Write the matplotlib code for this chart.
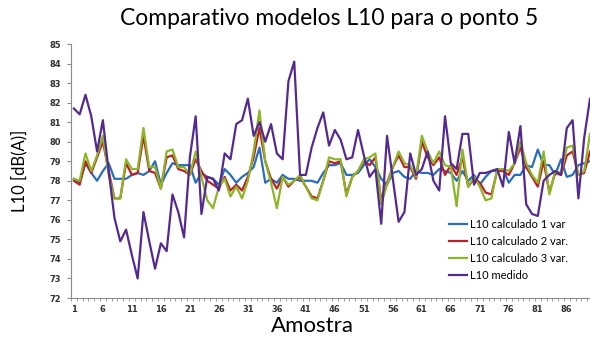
import numpy as np
import matplotlib
matplotlib.use("Agg")
import matplotlib.pyplot as plt
from matplotlib.ticker import MultipleLocator, FixedLocator

# ============================================================
# Dados
# ============================================================
amostras = np.arange(1, 91)

l10_calc_1var = [
    78.1, 77.9, 78.9, 78.4, 78.0, 78.5, 78.9, 78.1, 78.1, 78.1,
    78.3, 78.4, 78.3, 78.5, 79.0, 77.8, 78.4, 78.9, 78.8, 78.8,
    78.8, 77.9, 78.4, 78.2, 78.1, 77.8, 78.6, 78.3, 77.9, 78.2,
    78.4, 78.7, 79.7, 77.9, 78.1, 77.9, 78.3, 78.1, 78.1, 78.0,
    78.0, 78.0, 77.9, 78.4, 78.8, 78.8, 78.9, 78.3, 78.3, 78.4,
    78.8, 79.1, 78.7, 78.1, 77.8, 78.4, 78.5, 78.2, 78.1, 78.5,
    78.4, 78.4, 78.3, 78.6, 78.5, 78.4, 78.0, 78.5, 78.0, 78.3,
    77.8, 78.2, 78.5, 78.5, 78.6, 77.9, 78.3, 78.3, 78.8, 78.7,
    79.6, 78.8, 78.8, 78.3, 79.1, 78.2, 78.3, 78.8, 78.9, 79.0,
]

l10_calc_2var = [
    78.0, 77.8, 79.0, 78.4, 79.2, 80.0, 78.5, 77.1, 77.1, 78.9,
    78.3, 78.4, 80.3, 78.5, 78.4, 77.6, 79.2, 79.3, 78.6, 78.5,
    78.3, 79.1, 78.5, 78.0, 77.8, 77.6, 78.2, 77.5, 77.8, 77.5,
    78.2, 79.2, 80.7, 79.0, 78.1, 77.6, 78.2, 77.7, 78.0, 78.2,
    77.7, 77.2, 77.1, 78.0, 79.0, 78.9, 79.0, 77.3, 78.2, 78.5,
    79.0, 78.8, 79.2, 77.0, 77.9, 78.7, 79.3, 78.7, 78.7, 78.1,
    80.0, 79.2, 78.8, 79.2, 78.3, 78.8, 78.3, 79.2, 77.7, 78.1,
    77.9, 77.4, 77.3, 78.5, 78.5, 78.3, 78.9, 79.7, 78.7, 78.2,
    77.7, 79.0, 77.4, 78.4, 78.3, 79.3, 79.5, 78.3, 78.4, 79.5,
]

l10_calc_3var = [
    78.1, 78.0, 79.4, 78.5, 79.3, 80.3, 78.3, 77.1, 77.1, 79.1,
    78.6, 78.6, 80.7, 78.7, 78.7, 77.6, 79.5, 79.6, 78.7, 78.7,
    78.3, 79.5, 78.2, 77.0, 76.6, 77.7, 78.1, 77.2, 77.7, 77.1,
    78.0, 79.5, 81.6, 79.0, 77.9, 76.6, 78.2, 77.8, 78.0, 78.3,
    77.7, 77.1, 77.0, 78.0, 79.2, 79.1, 79.1, 77.2, 78.2, 78.5,
    79.1, 79.2, 79.4, 76.8, 77.8, 78.7, 79.5, 78.9, 78.8, 78.2,
    80.3, 79.5, 78.9, 79.5, 78.8, 78.7, 76.7, 79.6, 77.7, 78.2,
    77.7, 77.0, 77.1, 78.6, 78.6, 78.5, 78.9, 80.0, 78.9, 78.3,
    77.9, 79.5, 77.3, 78.5, 78.4, 79.7, 79.8, 78.3, 78.5, 80.4,
]

l10_medido = [
    81.7, 81.4, 82.4, 81.3, 79.5, 81.1, 78.5, 76.1, 74.9, 75.5,
    74.2, 73.0, 76.4, 74.9, 73.5, 74.8, 74.4, 77.3, 76.4, 75.1,
    79.2, 81.3, 76.3, 78.2, 78.1, 77.5, 79.4, 79.1, 80.9, 81.1,
    82.2, 80.3, 81.0, 80.0, 80.9, 79.4, 79.1, 83.1, 84.1, 78.3,
    78.3, 79.7, 80.7, 81.5, 79.8, 80.6, 80.1, 79.1, 79.2, 80.6,
    79.3, 78.2, 78.6, 75.8, 80.3, 78.1, 75.9, 76.4, 79.4, 78.3,
    78.6, 79.5, 78.0, 77.5, 81.3, 78.9, 78.6, 80.4, 80.4, 77.8,
    78.4, 78.4, 78.5, 78.6, 77.7, 80.5, 78.9, 80.8, 76.8, 76.3,
    76.2, 78.0, 78.3, 78.5, 78.3, 80.7, 81.1, 77.1, 80.2, 82.2,
]

series = [
    ("L10 calculado 1 var", l10_calc_1var, "#2a6ebb"),
    ("L10 calculado 2 var.", l10_calc_2var, "#bb2228"),
    ("L10 calculado 3 var.", l10_calc_3var, "#8cb628"),
    ("L10 medido", l10_medido, "#552a8f"),
]

x_ticks = list(range(1, 90, 5))

# ============================================================
# Gráfico
# ============================================================
fig = plt.figure(figsize=(5.9, 3.38), dpi=100)
ax = fig.add_axes([0.1203, 0.1183, 0.8797, 0.7515])

for nome, valores, cor in series:
    ax.plot(amostras, valores, color=cor, linewidth=1.6, label=nome)

ax.set_xlim(0.5, 90.0)
ax.set_ylim(72, 85)
ax.yaxis.set_major_locator(MultipleLocator(1))
ax.xaxis.set_major_locator(FixedLocator(x_ticks))
ax.xaxis.set_minor_locator(FixedLocator(np.arange(0.5, 90.5, 1)))

for s in ["top", "right"]:
    ax.spines[s].set_visible(False)
for s in ["left", "bottom"]:
    ax.spines[s].set_color("#8c8c8c")
    ax.spines[s].set_linewidth(0.8)

ax.tick_params(axis="y", which="major", length=3, color="#8c8c8c",
               labelsize=6, labelcolor="#333333", pad=4)
ax.tick_params(axis="x", which="major", length=0, labelsize=6,
               labelcolor="#333333", pad=5)
ax.tick_params(axis="x", which="minor", length=2.5, color="#8c8c8c")
for lbl in ax.get_xticklabels() + ax.get_yticklabels():
    lbl.set_fontweight("bold")

fig.text(0.558, 0.945, "Comparativo modelos L10 para o ponto 5",
         ha="center", va="center", fontsize=16.5, family="Lato")
fig.text(312 / 590, 1 - 326 / 338, "Amostra", ha="center", va="center",
         fontsize=16, family="Lato")
fig.text(19 / 590, 1 - 171 / 338, "L10 [dB(A)]", ha="center", va="center",
         rotation=90, fontsize=12, family="Lato")

ax.legend(loc="lower right", bbox_to_anchor=(0.972, 0.035), frameon=False,
          prop={"family": "Lato", "size": 8}, handlelength=1.7,
          handletextpad=0.2, labelspacing=0.55, borderaxespad=0.3)

plt.savefig("out.png", dpi=100)
plt.close()
